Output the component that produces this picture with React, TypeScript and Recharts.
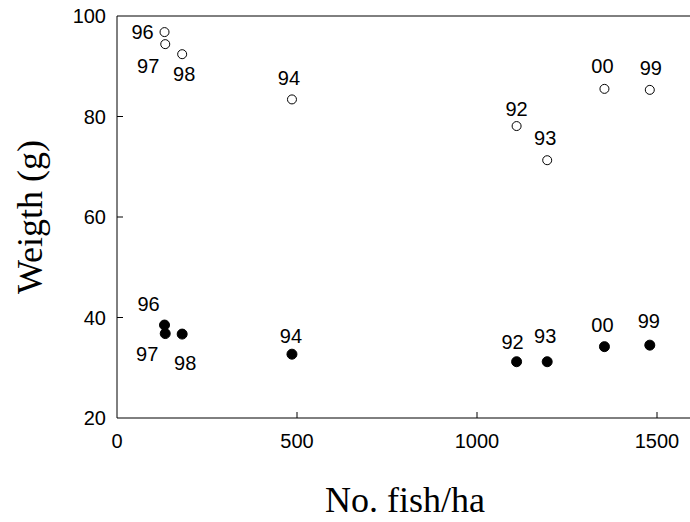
import React from 'react';
import { ScatterChart, Scatter, XAxis, YAxis, ReferenceLine, Label } from 'recharts';

const years = ['96', '97', '98', '94', '92', '93', '00', '99'];
const fishPerHa = [132, 134, 181, 486, 1110, 1195, 1354, 1480];
const weightOpen = [96.8, 94.4, 92.4, 83.4, 78.1, 71.3, 85.5, 85.3];
const weightFilled = [38.5, 36.8, 36.7, 32.7, 31.2, 31.2, 34.2, 34.5];
const xTicks = [0, 500, 1000, 1500];
const yTicks = [20, 40, 60, 80, 100];

const openData = years.map((year, i) => ({ year, x: fishPerHa[i], y: weightOpen[i] }));
const filledData = years.map((year, i) => ({ year, x: fishPerHa[i], y: weightFilled[i] }));

// where each year label sits relative to its point
const openLabelPos: Record<string, [number, number]> = {
  '96': [-22, 0], '97': [-17, 22], '98': [2, 20], '94': [-3, -22],
  '92': [0, -17], '93': [-2, -22], '00': [-2, -23], '99': [1, -22],
};
const filledLabelPos: Record<string, [number, number]> = {
  '96': [-16, -21], '97': [-18, 20], '98': [3, 29], '94': [-1, -18],
  '92': [-4, -20], '93': [-2, -26], '00': [-2, -22], '99': [-1, -24],
};

const sans = '"Liberation Sans", Arial, sans-serif';
const serif = '"Liberation Serif", "Times New Roman", serif';

const pointShape = (filled: boolean, pos: Record<string, [number, number]>) => (props: any) => {
  const { cx, cy, payload } = props;
  const [dx, dy] = pos[payload.year] || [0, -20];
  return (
    <g>
      <circle
        cx={cx}
        cy={cy}
        r={filled ? 5 : 4.5}
        fill={filled ? '#000' : '#fff'}
        stroke="#000"
        strokeWidth={1}
      />
      <text x={cx + dx} y={cy + dy} dy="0.36em" textAnchor="middle" fontSize={20} fontFamily={sans} fill="#000">
        {payload.year}
      </text>
    </g>
  );
};

const XTick = (props: any) => {
  const { x, y, payload } = props;
  return (
    <g>
      {payload.value !== 0 && <line x1={x} x2={x} y1={y} y2={y - 6} stroke="#000" />}
      <text x={x} y={y + 30} textAnchor="middle" fontSize={20} fontFamily={sans} fill="#000">
        {payload.value}
      </text>
    </g>
  );
};

const YTick = (props: any) => {
  const { x, y, payload } = props;
  return (
    <g>
      {payload.value !== 20 && payload.value !== 100 && (
        <line x1={x} x2={x + 6} y1={y} y2={y} stroke="#000" />
      )}
      <text x={x - 11} y={y} dy="0.36em" textAnchor="end" fontSize={20} fontFamily={sans} fill="#000">
        {payload.value}
      </text>
    </g>
  );
};

export default function App() {
  return (
    <div>
      <style>{`html,body{margin:0;overflow:hidden;background:#fff}`}</style>
      <ScatterChart width={700} height={522} margin={{ top: 16, right: 7, bottom: 0, left: 0 }}>
        <XAxis
          type="number"
          dataKey="x"
          domain={[0, 1600]}
          ticks={xTicks}
          height={104}
          tickSize={0}
          tickMargin={0}
          tickLine={false}
          tick={<XTick />}
          axisLine={{ stroke: '#000' }}
          allowDataOverflow
        >
          <Label
            content={({ viewBox }: any) => (
              <text
                x={viewBox.x + viewBox.width / 2}
                y={viewBox.y + 94}
                textAnchor="middle"
                fontSize={36}
                fontFamily={serif}
                fill="#000"
              >
                No. fish/ha
              </text>
            )}
          />
        </XAxis>
        <YAxis
          type="number"
          dataKey="y"
          domain={[20, 100]}
          ticks={yTicks}
          width={117}
          tickSize={0}
          tickMargin={0}
          tickLine={false}
          tick={<YTick />}
          axisLine={{ stroke: '#000' }}
          allowDataOverflow
        >
          <Label
            content={({ viewBox }: any) => {
              const cy = viewBox.y + viewBox.height / 2;
              return (
                <text
                  x={42}
                  y={cy}
                  transform={`rotate(-90, 42, ${cy})`}
                  textAnchor="middle"
                  fontSize={36}
                  fontFamily={serif}
                  fill="#000"
                >
                  Weigth (g)
                </text>
              );
            }}
          />
        </YAxis>
        <ReferenceLine y={100} stroke="#000" />
        <Scatter data={openData} shape={pointShape(false, openLabelPos)} isAnimationActive={false} />
        <Scatter data={filledData} shape={pointShape(true, filledLabelPos)} isAnimationActive={false} />
      </ScatterChart>
    </div>
  );
}
